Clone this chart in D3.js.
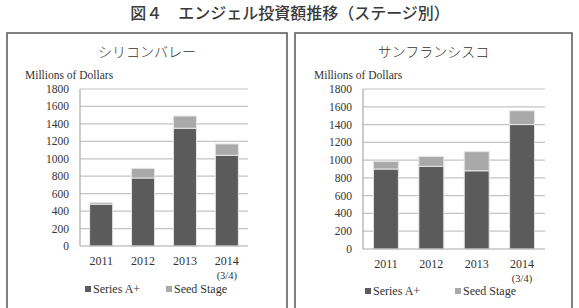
<!DOCTYPE html>
<html>
<head>
<meta charset="utf-8">
<script src="https://cdn.jsdelivr.net/npm/d3@7"></script>
<style>
  body { margin: 0; background: #fff; }
  svg { display: block; }
</style>
</head>
<body>
<svg id="chart" width="579" height="308"></svg>
<script>
// data
const years = ["2011", "2012", "2013", "2014"]
const yearNotes = ["", "", "", "(3/4)"]
const svSeriesA = [480, 780, 1350, 1040]
const svSeed = [20, 110, 140, 130]
const sfSeriesA = [900, 930, 880, 1400]
const sfSeed = [85, 110, 215, 155]
const yTicks = [0, 200, 400, 600, 800, 1000, 1200, 1400, 1600, 1800]
const seriesNames = ["Series A+", "Seed Stage"]
const colors = ["#5b5b5b", "#a9a9a9"]

const svg = d3.select("#chart")
const serif = "'Liberation Serif', 'DejaVu Serif', serif"

svg.append("text")
  .attr("x", 290).attr("y", 19)
  .attr("text-anchor", "middle")
  .style("font-family", "'Noto Sans CJK JP', sans-serif")
  .style("font-weight", 500)
  .style("font-size", "16px")
  .style("fill", "#3a3a3a")
  .text("図４　エンジェル投資額推移（ステージ別）")

// one panel per city
function drawPanel(p) {
  const g = svg.append("g")

  g.append("rect")//frame, bottom edge is cut off in the original
    .attr("x", p.box[0]).attr("y", 33)
    .attr("width", p.box[1] - p.box[0]).attr("height", 290)
    .attr("fill", "none").attr("stroke", "#555").attr("stroke-width", 1.5)

  g.append("text")
    .attr("x", (p.box[0] + p.box[1]) / 2).attr("y", 57)
    .attr("text-anchor", "middle")
    .style("font-family", "'Noto Sans CJK JP', sans-serif")
    .style("font-weight", 300)
    .style("font-size", "14px")
    .style("fill", "#333")
    .text(p.title)

  g.append("text")
    .attr("x", p.labelX).attr("y", 79)
    .style("font-family", serif)
    .style("font-size", "11.5px")
    .style("fill", "#333")
    .text("Millions of Dollars")

  let x = d3.scaleBand()
    .domain(years)
    .range([p.left, p.right])
    .paddingInner(0.45)
    .paddingOuter(0.23)
  let y = d3.scaleLinear()
    .domain([0, 1800])
    .range([p.bottom, 89])

  // gridlines
  g.selectAll(".grid").data(yTicks.slice(1)).enter().append("line")
    .attr("x1", p.left).attr("x2", p.right)
    .attr("y1", d => y(d)).attr("y2", d => y(d))
    .attr("stroke", "#c4c4c4").attr("stroke-width", 1.2)

  g.selectAll(".ytick").data(yTicks).enter().append("text")
    .attr("x", p.left - 11).attr("y", d => y(d) + 4)
    .attr("text-anchor", "end")
    .style("font-family", serif)
    .style("font-size", "11.5px")
    .style("fill", "#333")
    .text(d => d)

  const stack = d3.stack().keys([0, 1])(years.map((yr, i) => ({0: p.a[i], 1: p.seed[i], year: yr})))

  stack.forEach((layer, k) => {
    g.selectAll(".bar" + k).data(layer).enter().append("rect")
      .attr("x", d => x(d.data.year))
      .attr("width", x.bandwidth())
      .attr("y", d => y(d[1]))
      .attr("height", d => y(d[0]) - y(d[1]))
      .attr("fill", colors[k])
      .attr("stroke", "#e6e6e6").attr("stroke-width", 1)
  })

  // axis lines
  g.append("line")
    .attr("x1", p.left).attr("x2", p.left).attr("y1", 89).attr("y2", p.bottom)
    .attr("stroke", "#aaa").attr("stroke-width", 1.2)
  g.append("line")
    .attr("x1", p.left).attr("x2", p.right).attr("y1", p.bottom).attr("y2", p.bottom)
    .attr("stroke", "#aaa").attr("stroke-width", 1.2)

  years.forEach((yr, i) => {
    let cx = x(yr) + x.bandwidth() / 2
    g.append("text")
      .attr("x", cx).attr("y", p.bottom + 19)
      .attr("text-anchor", "middle")
      .style("font-family", serif).style("font-size", "12px").style("fill", "#333")
      .text(yr)
    if (yearNotes[i]) {
      g.append("text")
        .attr("x", cx).attr("y", p.bottom + 33)
        .attr("text-anchor", "middle")
        .style("font-family", serif).style("font-size", "10.5px").style("fill", "#333")
        .text(yearNotes[i])
    }
  })

  // legend
  seriesNames.forEach((name, k) => {
    let lx = p.legendX[k]
    g.append("rect")
      .attr("x", lx).attr("y", p.legendY - 3)
      .attr("width", 6).attr("height", 6)
      .attr("fill", colors[k])
    g.append("text")
      .attr("x", lx + 8).attr("y", p.legendY + 4)
      .style("font-family", serif).style("font-size", "12px").style("fill", "#333")
      .text(name)
  })
}

drawPanel({title: "シリコンバレー", box: [7, 287], left: 80, right: 248, bottom: 246,
  labelX: 25, legendX: [85, 166], legendY: 289, a: svSeriesA, seed: svSeed})
drawPanel({title: "サンフランシスコ", box: [295, 572], left: 363, right: 545, bottom: 249,
  labelX: 314, legendX: [365, 455], legendY: 291, a: sfSeriesA, seed: sfSeed})
</script>
</body>
</html>
